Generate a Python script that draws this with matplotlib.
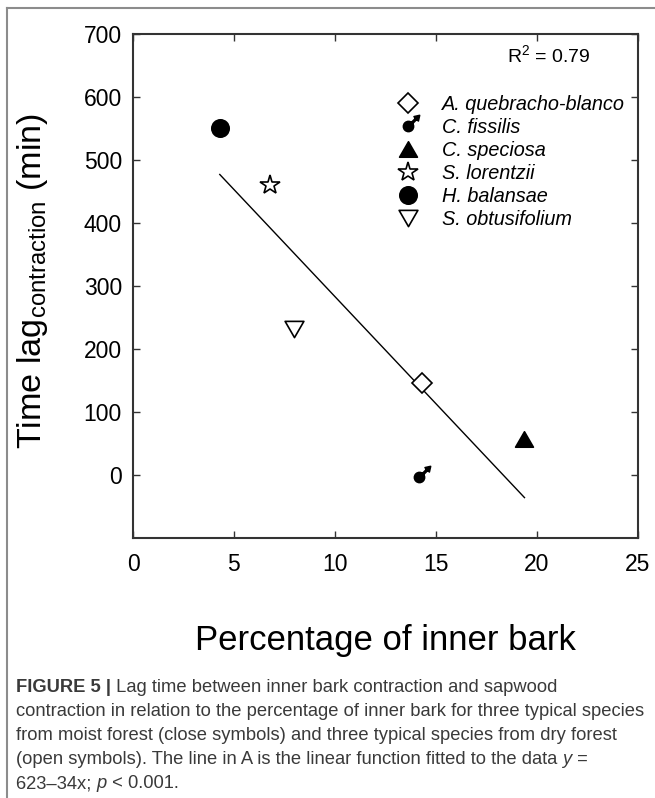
import matplotlib
matplotlib.use("Agg")
import matplotlib.pyplot as plt
from matplotlib.path import Path
from matplotlib.transforms import Affine2D
from matplotlib.lines import Line2D
import numpy as np

# ---- data -------------------------------------------------------------
species = ["A. quebracho-blanco", "C. fissilis", "C. speciosa",
           "S. lorentzii", "H. balansae", "S. obtusifolium"]
inner_bark_pct = [14.3, 14.15, 19.4, 6.8, 4.3, 8.0]
time_lag_min = [145, -4, 57, 460, 550, 232]
fit_intercept = 623
fit_slope = -34
r_squared = 0.79
x_ticks = [0, 5, 10, 15, 20, 25]
y_ticks = [0, 100, 200, 300, 400, 500, 600, 700]

# ---- fonts ------------------------------------------------------------
plt.rcParams["font.family"] = ["Liberation Sans", "DejaVu Sans"]
plt.rcParams["mathtext.fontset"] = "custom"
plt.rcParams["mathtext.rm"] = "Liberation Sans"
plt.rcParams["mathtext.it"] = "Liberation Sans:italic"
plt.rcParams["mathtext.bf"] = "Liberation Sans:bold"


def male_marker():
    """Filled circle with an arrow pointing to the upper right."""
    circle = Path.circle((0, 0), 1.0)
    shaft = Path([(0.95, -0.16), (2.3, -0.16), (2.3, 0.16), (0.95, 0.16), (0.95, -0.16)],
                 [Path.MOVETO, Path.LINETO, Path.LINETO, Path.LINETO, Path.CLOSEPOLY])
    head = Path([(2.15, -0.6), (3.1, 0.0), (2.15, 0.6), (2.15, -0.6)],
                [Path.MOVETO, Path.LINETO, Path.LINETO, Path.CLOSEPOLY])
    rot = Affine2D().rotate_deg(45)
    return Path.make_compound_path(circle, rot.transform_path(shaft), rot.transform_path(head))


def triangle(up=True):
    """Equilateral triangle centred on its bounding box."""
    s = 1 if up else -1
    return Path([(0, 0.866 * s), (-1, -0.866 * s), (1, -0.866 * s), (0, 0.866 * s)],
                [Path.MOVETO, Path.LINETO, Path.LINETO, Path.CLOSEPOLY])


styles = {
    "A. quebracho-blanco": dict(marker="D", ms=10.5, mfc="white"),
    "C. fissilis": dict(marker=male_marker(), ms=16, mfc="black"),
    "C. speciosa": dict(marker=triangle(True), ms=12.8, mfc="black"),
    "S. lorentzii": dict(marker="*", ms=15, mfc="white"),
    "H. balansae": dict(marker="o", ms=12.5, mfc="black"),
    "S. obtusifolium": dict(marker=triangle(False), ms=13.5, mfc="white"),
}

fig = plt.figure(figsize=(6.55, 7.98), dpi=100)
ax = fig.add_axes([133 / 655, 1 - 537.5 / 798, 504.5 / 655, 503.5 / 798])

handles = []
for name, x, y in zip(species, inner_bark_pct, time_lag_min):
    st = styles[name]
    h, = ax.plot([x], [y], ls="none", marker=st["marker"], ms=st["ms"],
                 mfc=st["mfc"], mec="black", mew=1.2, label=name, zorder=3)
    handles.append(h)

# fitted line over the observed range
xf = np.array([min(inner_bark_pct), max(inner_bark_pct)])
ax.plot(xf, fit_intercept + fit_slope * xf, color="black", lw=1.0, zorder=2)

ax.set_xlim(0, 25)
ax.set_ylim(-100, 700)
ax.set_xticks(x_ticks)
ax.set_yticks(y_ticks)

spine_col = "#333333"
for sp in ax.spines.values():
    sp.set_linewidth(1.5)
    sp.set_color(spine_col)
ax.tick_params(direction="in", length=5, width=1.0, color=spine_col,
               top=True, right=True, labelsize=16.5, labelcolor="black")
ax.tick_params(axis="x", pad=11)
ax.tick_params(axis="y", pad=8)

ax.set_xlabel("Percentage of inner bark", fontsize=25, va="center")
ax.xaxis.set_label_coords(0.5, -0.205)
ax.set_ylabel(r"Time lag$_{\mathrm{contraction}}$ (min)", fontsize=24.6, va="center")
ax.yaxis.set_label_coords(-0.2, 0.51)

ax.text(0.906, 0.958, r"R$^{2}$ = %.2f" % r_squared, transform=ax.transAxes,
        ha="right", va="center", fontsize=14)

ax.legend(handles=handles, loc="upper left", bbox_to_anchor=(0.5215, 0.878),
          frameon=False, borderpad=0, borderaxespad=0, handlelength=1.2,
          handletextpad=1.11, labelspacing=0.2,
          prop=dict(family="Liberation Sans", style="italic", size=14.3))

# ---- page frame -------------------------------------------------------
frame_col = "#8c8c8c"
fig.add_artist(Line2D([7 / 655, 1], [1 - 8 / 798, 1 - 8 / 798],
                      transform=fig.transFigure, color=frame_col, lw=1.5))
fig.add_artist(Line2D([7 / 655, 7 / 655], [0, 1 - 8 / 798],
                      transform=fig.transFigure, color=frame_col, lw=1.5))

# ---- caption ----------------------------------------------------------
cap_font = ["Liberation Sans"]
cap_col = "#3a3a3a"
normal = dict(fontfamily=cap_font)
bold = dict(fontfamily=cap_font, fontweight="bold")
ital = dict(fontfamily=cap_font, fontstyle="italic")

caption_lines = [
    [("FIGURE 5 |", bold), (" Lag time between inner bark contraction and sapwood", normal)],
    [("contraction in relation to the percentage of inner bark for three typical species", normal)],
    [("from moist forest (close symbols) and three typical species from dry forest", normal)],
    [("(open symbols). The line in A is the linear function fitted to the data ", normal),
     ("y", ital), (" =", normal)],
    [("623\u201334x; ", normal), ("p", ital), (" < 0.001.", normal)],
]
line_y_px = [688, 712, 736, 760, 784]

renderer = fig.canvas.get_renderer()

# size the caption so that its longest line spans the text column
probe = fig.text(0, 0, caption_lines[1][0][0], fontsize=12, **normal)
probe_w = probe.get_window_extent(renderer).width
probe.remove()
cap_size = 12 * 631 / probe_w

for runs, ypx in zip(caption_lines, line_y_px):
    x = 16 / 655
    for s, st in runs:
        t = fig.text(x, 1 - ypx / 798, s, fontsize=cap_size, color=cap_col,
                     va="center", ha="left", **st)
        x += t.get_window_extent(renderer).width / fig.bbox.width

fig.savefig("out.png", dpi=100)
